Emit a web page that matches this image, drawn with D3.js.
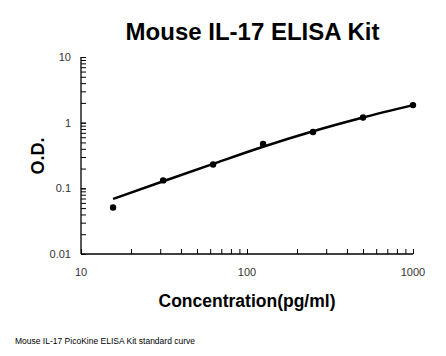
<!DOCTYPE html>
<html><head><meta charset="utf-8">
<script src="https://cdn.jsdelivr.net/npm/d3@7"></script>
<style>body{margin:0;background:#fff;}svg{display:block;font-family:"Liberation Sans",Arial,sans-serif;}</style>
</head><body>
<script>
const concentrations = [15.6, 31.25, 62.5, 125, 250, 500, 1000];
const odValues = [0.051, 0.132, 0.231, 0.475, 0.72, 1.2, 1.85];
const fitValues = [0.069, 0.128, 0.236, 0.43, 0.74, 1.2, 1.85];
const xTicks = [10, 100, 1000];
const yTicks = [0.01, 0.1, 1, 10];
const yTickLabels = ["0.01", "0.1", "1", "10"];

const W = 446, H = 356;
const svg = d3.select("body").append("svg").attr("width", W).attr("height", H);
const x = d3.scaleLog().domain([10, 1000]).range([81, 413]);
const y = d3.scaleLog().domain([0.01, 10]).range([254, 57]);

// minor ticks
const xMinor = [];
for (let d = 10; d < 1000; d *= 10) for (let k = 1; k <= 10; k++) xMinor.push(d * k);
const yMinor = [];
for (let d = 0.01; d < 9; d *= 10) for (let k = 1; k <= 10; k++) yMinor.push(+(d * k).toPrecision(3));

const xAxis = d3.axisBottom(x).tickValues(xMinor).tickSize(-5).tickFormat("");
svg.append("g").attr("transform", "translate(0,254)").call(xAxis)
  .call(g => { g.select(".domain").attr("stroke", "#000").attr("stroke-width", 1.3).attr("d", "M81,0H413"); g.selectAll("line").attr("stroke", "#000"); });
const yAxis = d3.axisLeft(y).tickValues(yMinor).tickSize(-5).tickFormat("");
svg.append("g").attr("transform", "translate(81,0)").call(yAxis)
  .call(g => { g.select(".domain").attr("stroke", "#000").attr("stroke-width", 1.3).attr("d", "M0,254V57"); g.selectAll("line").attr("stroke", "#000"); });

// tick labels
svg.append("g").selectAll("text").data(xTicks).join("text")
  .attr("x", d => x(d)).attr("y", 276).attr("text-anchor", "middle")
  .attr("font-size", 11).attr("fill", "#333").text(d => d);
svg.append("g").selectAll("text").data(yTicks).join("text")
  .attr("x", 71).attr("y", d => y(d) + 4).attr("text-anchor", "end")
  .attr("font-size", 11).attr("fill", "#333").text((d, i) => yTickLabels[i]);

// fitted curve
const line = d3.line().x((d, i) => x(concentrations[i])).y(d => y(d)).curve(d3.curveMonotoneX);
svg.append("path").datum(fitValues).attr("d", line).attr("fill", "none")
  .attr("stroke", "#000").attr("stroke-width", 2.5);

// points
svg.append("g").selectAll("circle").data(odValues).join("circle")
  .attr("cx", (d, i) => x(concentrations[i])).attr("cy", d => y(d)).attr("r", 3.2).attr("fill", "#000");

// titles
svg.append("text").attr("x", 252.5).attr("y", 40).attr("text-anchor", "middle")
  .attr("font-size", 24).attr("font-weight", "bold").text("Mouse IL-17 ELISA Kit");
svg.append("text").attr("transform", "translate(44,156) rotate(-90)").attr("text-anchor", "middle")
  .attr("font-size", 18).attr("font-weight", "bold").text("O.D.");
svg.append("text").attr("x", 247).attr("y", 307).attr("text-anchor", "middle")
  .attr("font-size", 17.5).attr("font-weight", "bold").text("Concentration(pg/ml)");
svg.append("text").attr("x", 15).attr("y", 344).attr("font-size", 8.5).attr("fill", "#000")
  .text("Mouse IL-17 PicoKine ELISA Kit standard curve");
</script>
</body></html>
